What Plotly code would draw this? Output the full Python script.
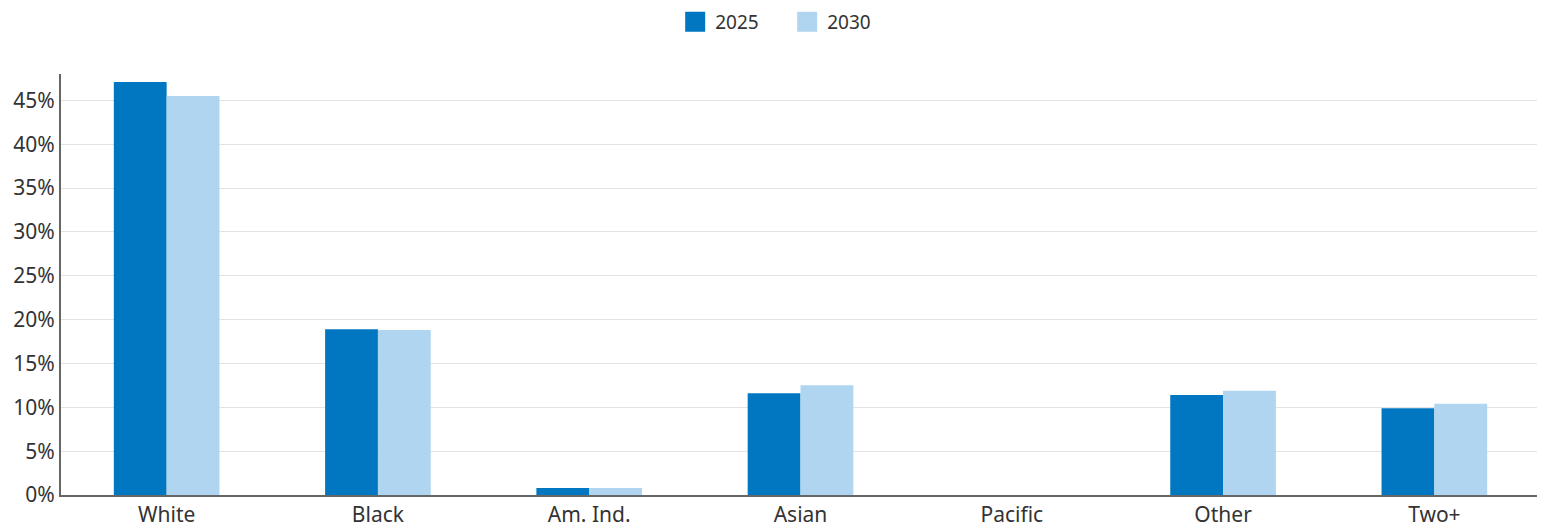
import plotly.graph_objects as go

categories = ["White", "Black", "Am. Ind.", "Asian", "Pacific", "Other", "Two+"]
series_names = ["2025", "2030"]
values_2025 = [47.1, 18.9, 0.8, 11.6, 0.0, 11.4, 9.9]
values_2030 = [45.5, 18.8, 0.8, 12.5, 0.0, 11.9, 10.4]
colors = ["#0077c0", "#afd5f0"]
y_ticks = [0, 5, 10, 15, 20, 25, 30, 35, 40, 45]
y_tick_labels = [f"{t}%" for t in y_ticks]

fig = go.Figure()
for name, vals, col in zip(series_names, [values_2025, values_2030], colors):
    fig.add_trace(go.Bar(x=categories, y=vals, name=name, marker_color=col,
                         marker_line_width=0, showlegend=False,
                         hovertemplate="%{x}: %{y}%<extra>" + name + "</extra>"))
# legend-only square markers
for name, col in zip(series_names, colors):
    fig.add_trace(go.Scatter(x=[None], y=[None], mode="markers", name=name,
                             marker=dict(symbol="square", size=16, color=col,
                                         line=dict(color=col, width=4))))

# page body adds an 8px offset, so the figure is sized to compensate
fig.update_layout(
    width=1537, height=519,
    barmode="group", bargap=0.5, bargroupgap=0,
    paper_bgcolor="white", plot_bgcolor="white",
    margin=dict(l=53, r=5, t=66, b=32, autoexpand=False),
    font=dict(family="'Noto Sans', 'Open Sans', sans-serif", size=21, color="#333333"),
    legend=dict(orientation="h", x=0.491, xanchor="center", y=1.1235, yanchor="middle",
                yref="paper", font=dict(size=19), itemwidth=30,
                entrywidth=67, entrywidthmode="pixels",
                traceorder="normal", itemsizing="trace"),
    xaxis=dict(showline=True, linecolor="#666666", linewidth=2, ticks="",
               tickfont=dict(size=21), showgrid=False, automargin=False),
    yaxis=dict(range=[0, 48], tickvals=y_ticks, ticktext=y_tick_labels,
               showline=True, linecolor="#666666", linewidth=2,
               showgrid=True, gridcolor="#e3e3e3", gridwidth=1,
               zeroline=False, ticks="", tickfont=dict(size=21), automargin=False),
)
fig.write_html("out.html")
